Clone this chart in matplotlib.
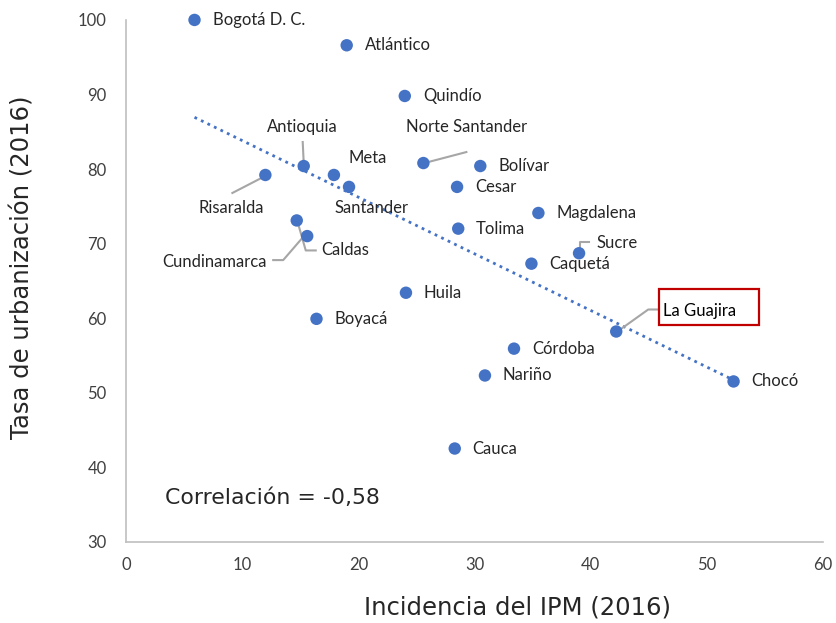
import matplotlib
matplotlib.use("Agg")

import matplotlib.pyplot as plt
from matplotlib.patches import Rectangle
import numpy as np

# IPM incidence vs urbanization rate, 2016
departamentos = ["Bogotá D. C.", "Atlántico", "Quindío", "Norte Santander", "Bolívar",
                 "Antioquia", "Meta", "Risaralda", "Santander", "Cesar", "Magdalena",
                 "Caldas", "Tolima", "Cundinamarca", "Sucre", "Caquetá", "Huila",
                 "Boyacá", "La Guajira", "Córdoba", "Nariño", "Chocó", "Cauca"]
ipm = [5.9, 19.0, 24.0, 25.6, 30.5, 15.3, 17.9, 12.0, 19.2, 28.5, 35.5,
       14.7, 28.6, 15.6, 39.0, 34.9, 24.1, 16.4, 42.2, 33.4, 30.9, 52.3, 28.3]
urbanizacion = [100.0, 96.6, 89.8, 80.8, 80.4, 80.4, 79.2, 79.2, 77.6, 77.6, 74.1,
                73.1, 72.0, 71.0, 68.7, 67.3, 63.4, 59.9, 58.2, 55.9, 52.3, 51.5, 42.5]

BLUE = "#4472C4"
TXT = "#262626"
GRAY = "#A6A6A6"
LABEL_FONT = ["Lato", "DejaVu Sans"]
TITLE_FONT = ["DejaVu Sans"]

# label placement in pixels relative to the point: (dx, dy up, ha, leader offsets)
default = (18, 0, "left", None)
layout = {
    "Antioquia": (-1, 39, "center", [(-1, 24), (0, 3)]),
    "Meta": (15, 17, "left", None),
    "Norte Santander": (43, 36, "center", [(43, 11), (1, 0)]),
    "Risaralda": (-34, -33, "center", [(-33, -18), (-2, -2)]),
    "Santander": (-15, -21, "left", None),
    "Caldas": (25, -30, "left", [(19, -30), (9, -30), (1, -2)]),
    "Cundinamarca": (-40, -26, "right", [(-34, -24), (-24, -24), (-5, -2)]),
    "Sucre": (17, 10, "left", [(10, 11), (1, 11), (1, 3)]),
    "La Guajira": (47, 21, "left", [(41, 22), (32, 22), (4, 2)]),
}

W, H = 837, 623
fig = plt.figure(figsize=(W / 100, H / 100), dpi=100)
ax = fig.add_axes([0.1505, 0.1305, 0.8328, 0.8375])

ax.set_xlim(0, 60)
ax.set_ylim(30, 100)
ax.set_xticks(range(0, 61, 10))
ax.set_yticks(range(30, 101, 10))
for s in ["top", "right"]:
    ax.spines[s].set_visible(False)
for s in ["left", "bottom"]:
    ax.spines[s].set_color("#BFBFBF")
    ax.spines[s].set_linewidth(1.2)
ax.tick_params(length=0, labelsize=12, labelcolor="#404040", pad=14)
ax.tick_params(axis="x", pad=11)
for lab in ax.get_xticklabels() + ax.get_yticklabels():
    lab.set_family(LABEL_FONT)

# trendline over the data range
x = np.array(ipm)
y = np.array(urbanizacion)
m, b = np.polyfit(x, y, 1)
xs = np.array([x.min(), x.max()])
ax.plot(xs, m * xs + b, linestyle=(0, (1, 1.6)), color=BLUE, linewidth=2.0, zorder=2)

ax.scatter(x, y, s=80, color=BLUE, edgecolors="none", zorder=3, clip_on=False)

fig.canvas.draw()
to_px = ax.transData
to_data = ax.transData.inverted()

for name, xv, yv in zip(departamentos, ipm, urbanizacion):
    dx, dy, ha, leader = layout.get(name, default)
    px, py = to_px.transform((xv, yv))
    tx, ty = to_data.transform((px + dx, py + dy))
    color = "black" if name == "La Guajira" else TXT
    ax.text(tx, ty, name, fontsize=12, color=color, ha=ha, va="center",
            family=LABEL_FONT, zorder=4)
    if leader:
        pts = to_data.transform([(px + ox, py + oy) for ox, oy in leader])
        ax.plot(pts[:, 0], pts[:, 1], color=GRAY, linewidth=1.5, zorder=2.5)
    if name == "La Guajira":
        (x0, y0), (x1, y1) = to_data.transform([(px + 43, py + 7), (px + 143, py + 43)])
        ax.add_patch(Rectangle((x0, y0), x1 - x0, y1 - y0, facecolor="none",
                               edgecolor="#C00000", linewidth=1.6, zorder=4))

ax.text(3.4, 35.8, "Correlación = -0,58", fontsize=15.8, color=TXT,
        family=TITLE_FONT, ha="left", va="center")

# axis titles (placed as in the original, x title sits right of centre)
fig.text(518 / W, 1 - 608 / H, "Incidencia del IPM (2016)", fontsize=17.5,
         color=TXT, family=TITLE_FONT, ha="center", va="center")
fig.text(23 / W, 1 - 267 / H, "Tasa de urbanización (2016)", fontsize=17.5,
         color=TXT, family=TITLE_FONT, ha="center", va="center", rotation=90)

plt.savefig("out.png", dpi=100)
plt.close()
